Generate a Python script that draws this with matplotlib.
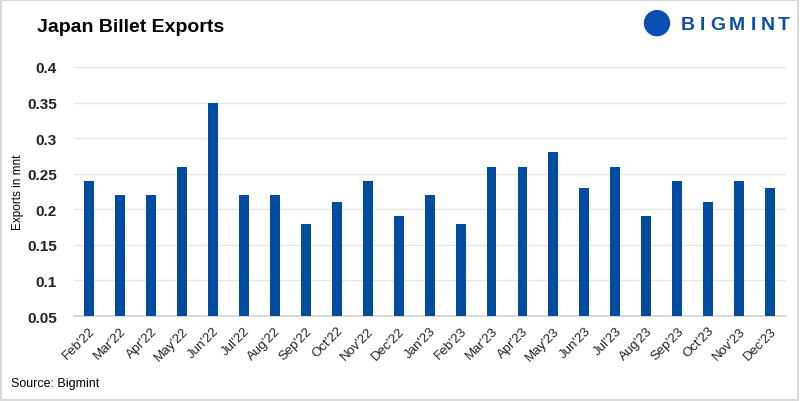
import matplotlib.pyplot as plt
from matplotlib.patches import Rectangle, Ellipse

plt.rcParams['font.family'] = ['Liberation Sans', 'DejaVu Sans']

# data
months = ["Feb'22", "Mar'22", "Apr'22", "May'22", "Jun'22", "Jul'22", "Aug'22", "Sep'22",
          "Oct'22", "Nov'22", "Dec'22", "Jan'23", "Feb'23", "Mar'23", "Apr'23", "May'23",
          "Jun'23", "Jul'23", "Aug'23", "Sep'23", "Oct'23", "Nov'23", "Dec'23"]
exports = [0.24, 0.22, 0.22, 0.26, 0.35, 0.22, 0.22, 0.18, 0.21, 0.24, 0.19, 0.22,
           0.18, 0.26, 0.26, 0.28, 0.23, 0.26, 0.19, 0.24, 0.21, 0.24, 0.23]
yticks = [0.05, 0.1, 0.15, 0.2, 0.25, 0.3, 0.35, 0.4]

blue = '#004ca1'
logo_blue = '#0a4fb0'

fig = plt.figure(figsize=(8, 4.02), dpi=100)
ax = fig.add_axes([0.092, 0.2114, 0.890, 0.6196])

x = range(len(months))
ax.bar(x, exports, width=0.32, color=blue, zorder=3)
ax.set_xlim(-0.5, len(months) - 0.5)
ax.set_ylim(0.05, 0.4)
ax.set_yticks(yticks)
ax.set_yticklabels([f'{v:g}' for v in yticks], fontweight='bold', fontsize=11)
ax.set_xticks(list(x))
ax.set_xticklabels(months, rotation=45, ha='right', rotation_mode='anchor', fontsize=9.5)
ax.tick_params(axis='both', length=0, colors='#222222')
ax.tick_params(axis='x', pad=6)
ax.tick_params(axis='y', pad=12)
ax.grid(axis='y', color='#e6e6e6', linewidth=1, zorder=0)
for s in ['top', 'right', 'left']:
    ax.spines[s].set_visible(False)
ax.spines['bottom'].set_color('#d0d0d0')
ax.spines['bottom'].set_linewidth(1.2)
ax.set_ylabel('Exports in mnt', fontsize=8.5)
ax.yaxis.set_label_coords(-0.07, 0.5)

fig.text(0.046, 0.932, 'Japan Billet Exports', fontsize=14, fontweight='bold', va='center')
fig.text(0.014, 0.045, 'Source: Bigmint', fontsize=9, va='center')

# logo: spaced letters
letters = 'BIGMINT'
xpos = [688, 702, 718, 737, 753, 768, 784]
for ch, px in zip(letters, xpos):
    fig.text(px / 800, 0.937, ch, fontsize=14, fontweight='heavy', color=logo_blue,
             va='center', ha='center')
r = 12.5
fig.patches.append(Ellipse((657 / 800, 0.94), 2 * r / 800, 2 * r / 402,
                           transform=fig.transFigure, color=logo_blue, figure=fig))

fig.patches.append(Rectangle((0.001, 0.002), 0.997, 0.995, transform=fig.transFigure,
                             fill=False, edgecolor='#d9d9d9', linewidth=1.5, figure=fig))

plt.savefig('out.png', dpi=100)
